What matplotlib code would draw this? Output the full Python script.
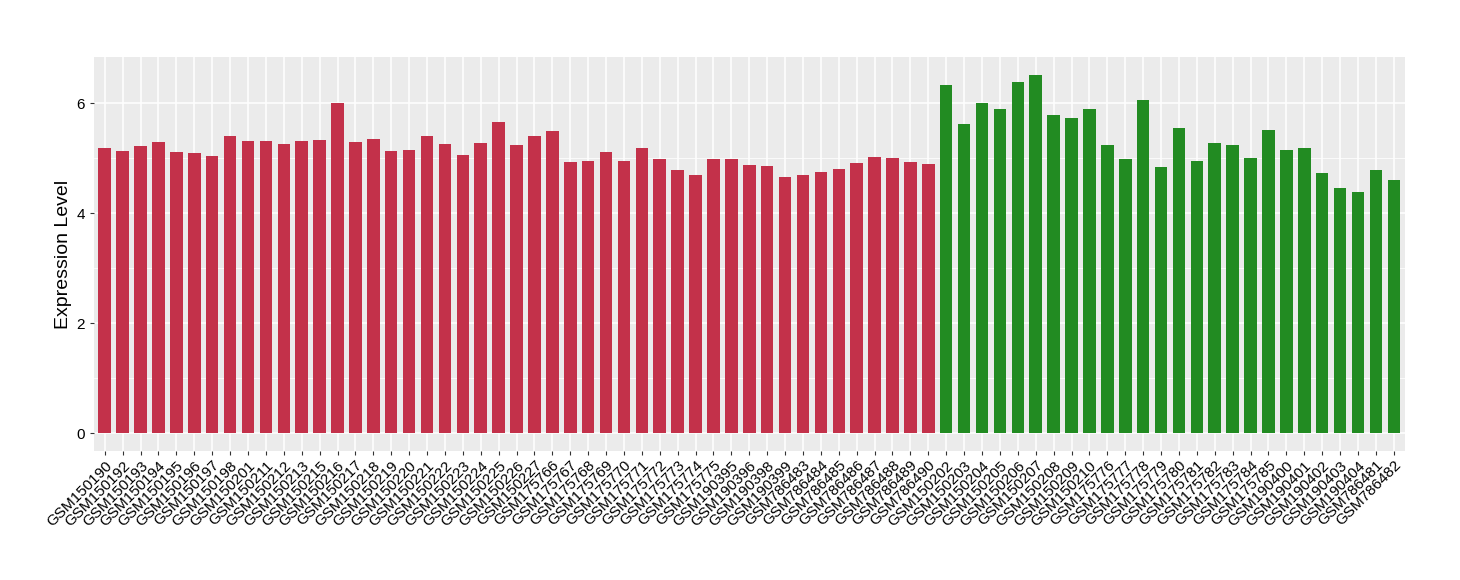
import matplotlib
matplotlib.use("Agg")
import matplotlib.pyplot as plt
from matplotlib.ticker import MultipleLocator

# Samples and expression values
red_samples = [
    "GSM150190", "GSM150192", "GSM150193", "GSM150194", "GSM150195", "GSM150196",
    "GSM150197", "GSM150198", "GSM150201", "GSM150211", "GSM150212", "GSM150213",
    "GSM150215", "GSM150216", "GSM150217", "GSM150218", "GSM150219", "GSM150220",
    "GSM150221", "GSM150222", "GSM150223", "GSM150224", "GSM150225", "GSM150226",
    "GSM150227", "GSM175766", "GSM175767", "GSM175768", "GSM175769", "GSM175770",
    "GSM175771", "GSM175772", "GSM175773", "GSM175774", "GSM175775", "GSM190395",
    "GSM190396", "GSM190398", "GSM190399", "GSM786483", "GSM786484", "GSM786485",
    "GSM786486", "GSM786487", "GSM786488", "GSM786489", "GSM786490",
]
red_values = [
    5.18, 5.14, 5.23, 5.30, 5.12, 5.09, 5.05, 5.41, 5.32, 5.32, 5.27, 5.32,
    5.34, 6.00, 5.30, 5.36, 5.14, 5.16, 5.41, 5.27, 5.07, 5.28, 5.67, 5.25,
    5.41, 5.50, 4.94, 4.96, 5.12, 4.96, 5.19, 4.99, 4.79, 4.70, 4.98, 4.98,
    4.88, 4.87, 4.67, 4.69, 4.76, 4.81, 4.92, 5.03, 5.01, 4.94, 4.90,
]

green_samples = [
    "GSM150202", "GSM150203", "GSM150204", "GSM150205", "GSM150206", "GSM150207",
    "GSM150208", "GSM150209", "GSM150210", "GSM175776", "GSM175777", "GSM175778",
    "GSM175779", "GSM175780", "GSM175781", "GSM175782", "GSM175783", "GSM175784",
    "GSM175785", "GSM190400", "GSM190401", "GSM190402", "GSM190403", "GSM190404",
    "GSM786481", "GSM786482",
]
green_values = [
    6.34, 5.63, 6.01, 5.89, 6.39, 6.52, 5.78, 5.74, 5.90, 5.25, 4.98, 6.07,
    4.85, 5.56, 4.96, 5.28, 5.25, 5.01, 5.52, 5.16, 5.18, 4.74, 4.47, 4.39,
    4.79, 4.61,
]

RED = "#C3314A"
GREEN = "#228B22"

plt.rcParams["font.family"] = ["Liberation Sans", "DejaVu Sans"]

samples = red_samples + green_samples
values = red_values + green_values
colors = [RED] * len(red_samples) + [GREEN] * len(green_samples)
xpos = list(range(len(samples)))

fig = plt.figure(figsize=(14.6, 5.8), dpi=100)
ax = fig.add_axes([0.0644, 0.222, 0.8976, 0.680])

# ggplot-like grey panel
ax.set_facecolor("#EBEBEB")
ax.set_axisbelow(True)
ax.grid(True, which="major", color="white", linewidth=1.1)
ax.grid(True, which="minor", axis="y", color="white", linewidth=0.55)
for s in ax.spines.values():
    s.set_visible(False)

ax.bar(xpos, values, width=0.7, color=colors, zorder=2)

ax.set_xlim(-0.6, len(samples) - 0.4)
top = max(values)
ax.set_ylim(-0.05 * top, top * 1.05)
ax.yaxis.set_major_locator(MultipleLocator(2))
ax.yaxis.set_minor_locator(MultipleLocator(1))

ax.set_xticks(xpos)
ax.set_xticklabels(samples, rotation=45, ha="right", va="top",
                   rotation_mode="anchor", fontsize=11, color="black")
ax.tick_params(axis="both", which="major", length=3, width=0.8,
               color="#333333", labelsize=11, labelcolor="black")
ax.tick_params(axis="y", which="minor", length=0)
ax.tick_params(axis="x", pad=2)

ax.set_ylabel("Expression Level", fontsize=14, labelpad=3)

fig.savefig("out.png", dpi=100)
